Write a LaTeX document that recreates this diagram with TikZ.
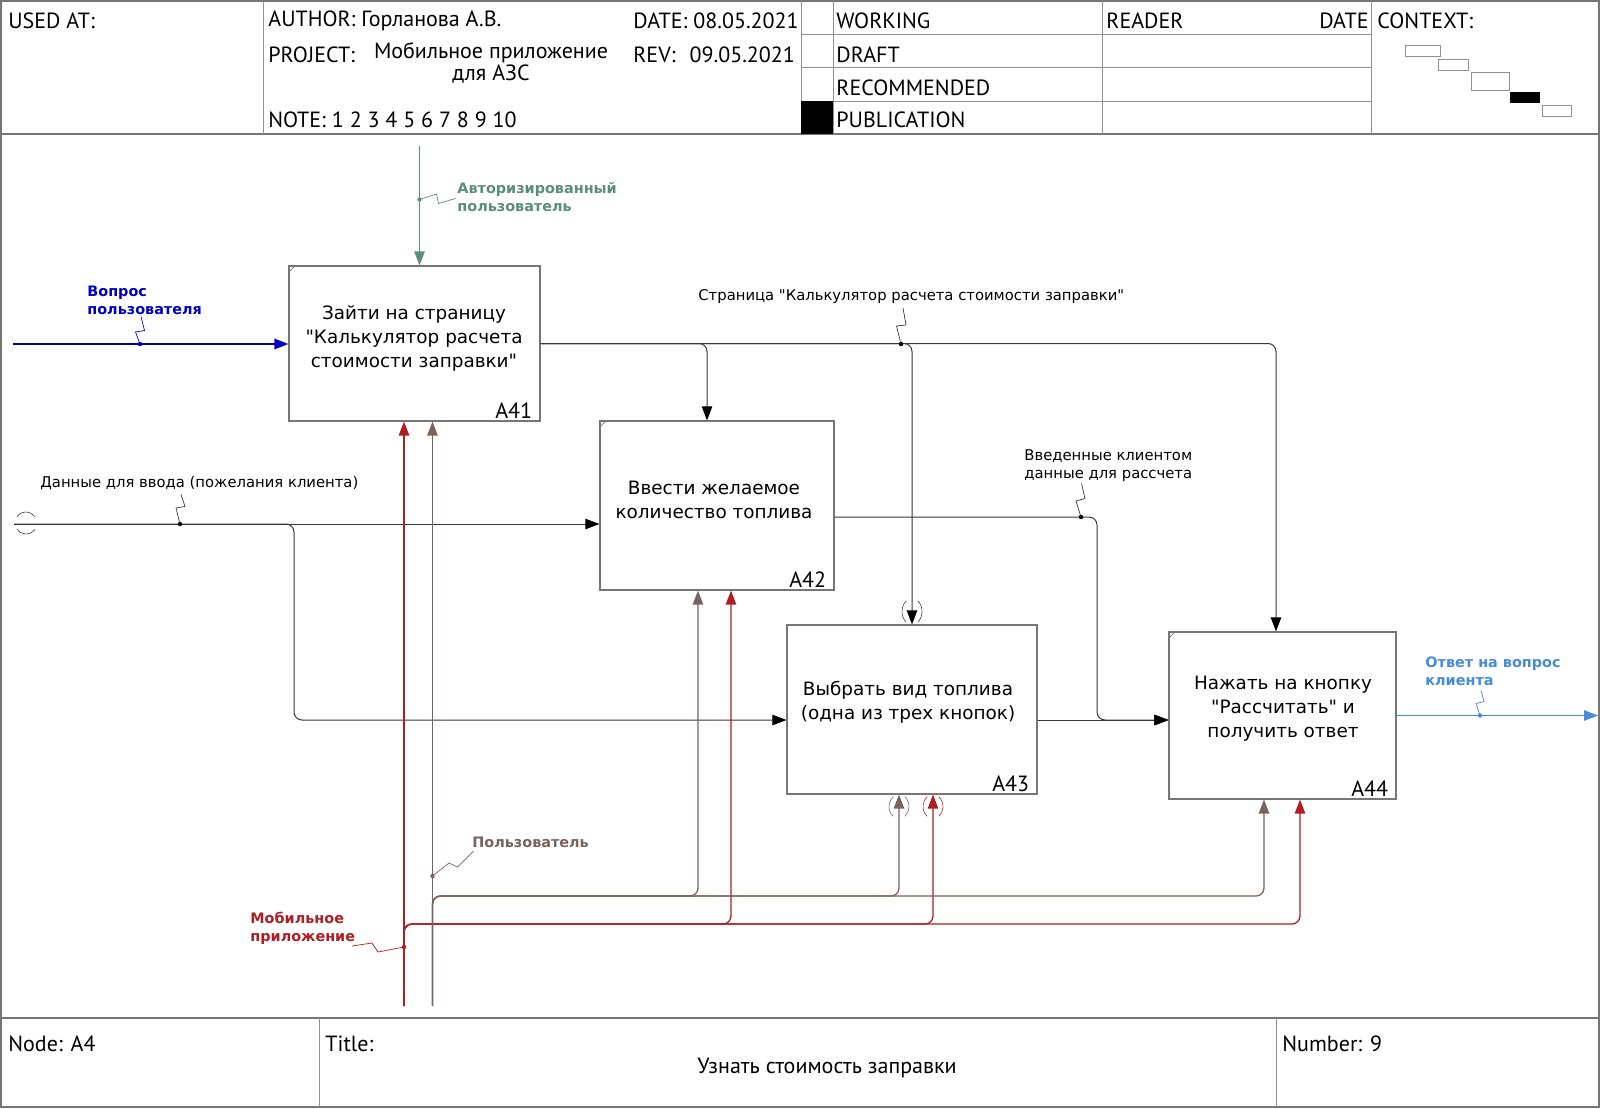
\documentclass[tikz,border=0pt]{standalone}
\usepackage{fontspec}
\setmainfont{DejaVu Sans}[Ligatures=TeXOff]
\newfontfamily\hdr{PT Sans}
\usetikzlibrary{arrows.meta,calc}

\definecolor{frm}{RGB}{118,118,118}
\definecolor{lnk}{RGB}{55,55,55}
\definecolor{qblue}{RGB}{0,0,195}
\definecolor{agreen}{RGB}{92,140,122}
\definecolor{oblue}{RGB}{70,140,215}
\definecolor{mred}{RGB}{175,30,35}
\definecolor{utaupe}{RGB}{122,98,96}

\begin{document}
\begin{tikzpicture}[x=0.5pt,y=-0.5pt,
  frame/.style={draw=frm,line width=0.55pt},
  grid/.style={draw=frm!80,line width=0.45pt},
  hd/.style={font=\hdr\fontsize{11}{13}\selectfont,inner sep=0pt,anchor=west},
  lbl/.style={font=\fontsize{7.4}{9}\selectfont,inner sep=0pt,anchor=west,align=left},
  blbl/.style={font=\bfseries\fontsize{7.2}{9}\selectfont,inner sep=0pt,anchor=west,align=left},
  btxt/.style={font=\fontsize{9.2}{12}\selectfont,inner sep=0pt,align=center},
  idl/.style={font=\hdr\fontsize{11}{13}\selectfont,inner sep=0pt,anchor=base east},
  fbox/.style={draw=frm,line width=0.55pt,inner sep=0pt},
  link/.style={draw=lnk,line width=0.5pt,rounded corners=4pt},
  arr/.style={-{Triangle[length=7pt,width=5.2pt]}},
  barr/.style={-{Triangle[length=7pt,width=5.2pt,color=black]}},
  sq/.style={line width=0.35pt},
  tun/.style={line width=0.3pt},
  tick/.style={draw=frm,line width=0.4pt}
]
\useasboundingbox (0,0) rectangle (1600,1108);

% ---------- sheet frame ----------
\draw[frame] (1,1) rectangle (1599,1107);
\draw[frame] (1,134) -- (1599,134);
\draw[frame] (1,1018) -- (1599,1018);
\foreach \x in {263,801,833,1102,1371} \draw[grid] (\x,1) -- (\x,134);
\foreach \y in {34,67.5,101} \draw[grid] (801,\y) -- (1371,\y);
\foreach \x in {319,1276} \draw[grid] (\x,1018) -- (\x,1107);
\fill[black] (801,101) rectangle (833,134);

% context miniature
\draw[grid] (1405.5,45.5) rectangle (1440,56);
\draw[grid] (1438,59) rectangle (1468,70.5);
\draw[grid] (1471,72) rectangle (1509.5,90);
\fill[black] (1510,92) rectangle (1540,103);
\draw[grid] (1542.5,105) rectangle (1571.5,116);

% ---------- header texts ----------
\node[hd] (usedat) at (8,21) {USED AT:};
\node[hd] (author) at (268,21) {AUTHOR: Горланова А.В.};
\node[hd] (date) at (633,21) {DATE: 08.05.2021};
\node[hd] (project) at (268,55) {PROJECT:};
\node[hd,anchor=center,align=center,font=\hdr\fontsize{11}{9.2}\selectfont] (projname) at (491,63) {Мобильное приложение\\для АЗС};
\node[hd] (rev) at (633,55) {REV:\hspace{7pt}09.05.2021};
\node[hd] (note) at (268,120) {NOTE: 1 2 3 4 5 6 7 8 9 10};
\node[hd] (working) at (836,21) {WORKING};
\node[hd] (draft) at (836,55) {DRAFT};
\node[hd] (recom) at (836,88) {RECOMMENDED};
\node[hd] (publ) at (836,120) {PUBLICATION};
\node[hd] (reader) at (1106,21) {READER};
\node[hd,anchor=east] (rdate) at (1369,21) {DATE};
\node[hd] (context) at (1377,21) {CONTEXT:};

% ---------- footer texts ----------
\node[hd] (nodeid) at (8,1044) {Node: A4};
\node[hd] (titlel) at (325,1044) {Title:};
\node[hd,anchor=center] (title) at (827,1068) {Узнать стоимость заправки};
\node[hd] (numb) at (1282,1044) {Number: 9};

% ---------- function boxes ----------
\node[fbox,minimum width=125.5pt,minimum height=77.5pt] (a41) at (414.5,343.5) {};
\node[fbox,minimum width=117pt,minimum height=84.5pt] (a42) at (717,505.5) {};
\node[fbox,minimum width=125pt,minimum height=84.5pt] (a43) at (912,709.5) {};
\node[fbox,minimum width=113.5pt,minimum height=83.5pt] (a44) at (1282.5,715.5) {};

\draw[tick] ($(a41.north west)+(0,7)$) -- ($(a41.north west)+(7,0)$);
\draw[tick] ($(a42.north west)+(0,7)$) -- ($(a42.north west)+(7,0)$);
\draw[tick] ($(a44.north west)+(0,7)$) -- ($(a44.north west)+(7,0)$);

\node[btxt] (a41t) at (414,338) {Зайти на страницу\\"Калькулятор расчета\\стоимости заправки"};
\node[btxt] (a42t) at (714,500) {Ввести желаемое\\количество топлива};
\node[btxt] (a43t) at (908,702) {Выбрать вид топлива\\(одна из трех кнопок)};
\node[btxt] (a44t) at (1283,709) {Нажать на кнопку\\"Рассчитать" и\\получить ответ};

\node[idl] (a41id) at ($(a41.south east)+(-8,-3)$) {A41};
\node[idl] (a42id) at ($(a42.south east)+(-8,-3)$) {A42};
\node[idl] (a43id) at ($(a43.south east)+(-8,-3)$) {A43};
\node[idl] (a44id) at ($(a44.south east)+(-8,-3)$) {A44};

% ---------- free ends and bends ----------
\coordinate (qin) at (13,344);
\coordinate (ain) at (419.5,146);
\coordinate (din) at (14,524);
\coordinate (dj) at (294,720);
\coordinate (rj) at (1097,720);
\coordinate (oend) at (1598,715.5);
\coordinate (mob) at (404,1006);
\coordinate (usr) at (432.5,1006);
\coordinate (mbus) at (404,924);
\coordinate (ubus) at (432.5,896);
\coordinate (c42) at ($(a42.north)+(-10,0)$);
\coordinate (c44) at ($(a44.north)+(-6.5,0)$);
\coordinate (o42) at ($(a42.east)+(0,11.5)$);
\coordinate (m42) at ($(a42.south)+(14,0)$);
\coordinate (m43) at ($(a43.south)+(21,0)$);
\coordinate (m44) at ($(a44.south)+(17.5,0)$);
\coordinate (u42) at ($(a42.south)+(-19,0)$);
\coordinate (u43) at ($(a43.south)+(-13,0)$);
\coordinate (u44) at ($(a44.south)+(-18.5,0)$);

% ---------- inputs ----------
\draw[link,draw=qblue,line width=0.9pt,arr] (qin) -- (qin -| a41.west);
\draw[link,barr] (din) -- (din -| a42.west);
\draw[link,barr] (din) -| (dj) -- (dj -| a43.west);
\draw[tun,lnk] (26,523) ++(35:11) arc[start angle=35,end angle=145,radius=11];
\draw[tun,lnk] (26,523) ++(215:11) arc[start angle=215,end angle=325,radius=11];

% ---------- control ----------
\draw[agreen,line width=0.75pt,arr] (ain) -- (ain |- a41.north);

% ---------- A41 output fanned to A42, A43, A44 ----------
\draw[link,barr] (a41.east) -| (c42);
\draw[link,barr] (a41.east) -| (a43.north);
\draw[link,barr] (a41.east) -| (c44);
\coordinate (t43) at ($(a43.north)+(0,-13)$);
\draw[tun,lnk] (t43) ++(125:10 and 13) arc[start angle=125,end angle=235,x radius=10,y radius=13];
\draw[tun,lnk] (t43) ++(-55:10 and 13) arc[start angle=-55,end angle=55,x radius=10,y radius=13];

% ---------- A42 and A43 outputs to A44 ----------
\draw[link,barr] (o42) -| (rj) -- (rj -| a44.west);
\draw[link,barr] (rj -| a43.east) -- (rj -| a44.west);

% ---------- final output ----------
\draw[oblue,line width=0.75pt,arr] (a44.east) -- (oend);

% ---------- mechanisms ----------
\draw[link,draw=mred,line width=0.65pt,arr] (mob) -- (mob |- a41.south);
\draw[link,draw=mred,line width=0.65pt,arr] (mob) |- (m42 |- mbus) -- (m42);
\draw[link,draw=mred,line width=0.65pt,arr] (mob) |- (m43 |- mbus) -- (m43);
\draw[link,draw=mred,line width=0.65pt,arr] (mob) |- (m44 |- mbus) -- (m44);
\draw[link,draw=utaupe,line width=0.65pt,arr] (usr) -- (usr |- a41.south);
\draw[link,draw=utaupe,line width=0.65pt,arr] (usr) |- (u42 |- ubus) -- (u42);
\draw[link,draw=utaupe,line width=0.65pt,arr] (usr) |- (u43 |- ubus) -- (u43);
\draw[link,draw=utaupe,line width=0.65pt,arr] (usr) |- (u44 |- ubus) -- (u44);
\coordinate (tu) at ($(u43)+(0,12)$);
\coordinate (tm) at ($(m43)+(0,12)$);
\draw[tun,utaupe] (tu) ++(125:10 and 12) arc[start angle=125,end angle=235,x radius=10,y radius=12];
\draw[tun,utaupe] (tu) ++(-55:10 and 12) arc[start angle=-55,end angle=55,x radius=10,y radius=12];
\draw[tun,mred] (tm) ++(125:10 and 12) arc[start angle=125,end angle=235,x radius=10,y radius=12];
\draw[tun,mred] (tm) ++(-55:10 and 12) arc[start angle=-55,end angle=55,x radius=10,y radius=12];

% ---------- labels with squiggles ----------
\node[blbl,text=qblue] (lq) at (87,300) {Вопрос\\пользователя};
\coordinate (dq) at (140,344);
\fill[qblue] (dq) circle[radius=2.2];
\draw[qblue,sq] (dq) -- ++(-4.5,-12) -- ++(9,-1.5) -- ++(-3.5,-14);

\node[blbl,text=agreen] (la) at (457,197) {Авторизированный\\пользователь};
\coordinate (da) at (419.5,199.5);
\fill[agreen] (da) circle[radius=2.2];
\draw[agreen,sq] (da) -- ++(17,-5.5) -- ++(2,9.5) -- ++(17,-5);

\node[lbl] (lpage) at (698,297) {Страница "Калькулятор расчета стоимости заправки"};
\coordinate (dp) at (901,344);
\fill[black] (dp) circle[radius=2.2];
\draw[lnk,sq] (dp) -- ++(-4.5,-18) -- ++(9.5,-1) -- ++(-3,-17);

\node[lbl] (ldata) at (40,483) {Данные для ввода (пожелания клиента)};
\coordinate (dd) at (180,524);
\fill[black] (dd) circle[radius=2.2];
\draw[lnk,sq] (dd) -- ++(-4,-16) -- ++(9,-1.5) -- ++(-4,-12);

\node[lbl] (lent) at (1024,466) {Введенные клиентом\\данные для рассчета};
\coordinate (de) at (1081,517);
\fill[black] (de) circle[radius=2.2];
\draw[lnk,sq] (de) -- ++(-5,-16) -- ++(9,-2.5) -- ++(-3.5,-15);

\node[blbl,text=oblue] (lans) at (1425,671) {Ответ на вопрос\\клиента};
\coordinate (do) at (1480,715.5);
\fill[oblue] (do) circle[radius=2.2];
\draw[oblue,sq] (do) -- ++(-4,-12) -- ++(8,-2) -- ++(-3,-11);

\node[blbl,text=utaupe] (lusr) at (472,842) {Пользователь};
\coordinate (du) at (432.5,876);
\fill[utaupe] (du) circle[radius=2.2];
\draw[utaupe,sq] (du) -- ++(16.5,-13) -- ++(8.5,4) -- ++(16,-16);

\node[blbl,text=mred] (lmob) at (250,928) {Мобильное\\приложение};
\coordinate (dm) at (404,947);
\fill[mred] (dm) circle[radius=2.2];
\draw[mred,sq] (dm) -- ++(-26,5) -- ++(-6,-9) -- ++(-20,3);

\end{tikzpicture}
\end{document}
